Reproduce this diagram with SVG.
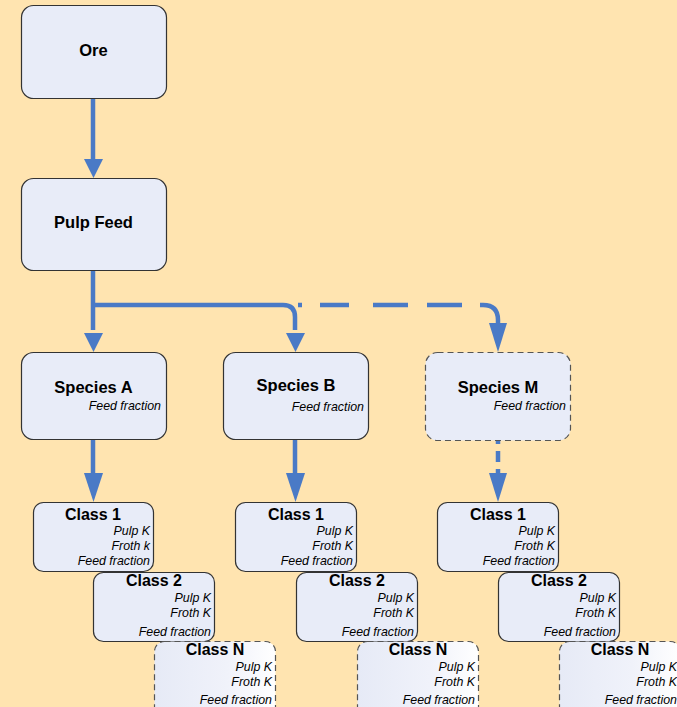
<svg xmlns="http://www.w3.org/2000/svg" width="677" height="707" viewBox="0 0 677 707">
<style>
.box{fill:#E8ECF8;stroke:#333;stroke-width:1.2}
.dbox{fill:#E8ECF8;stroke:#555;stroke-width:1.2;stroke-dasharray:6 4}
.nbox{fill:url(#gN);stroke:#555;stroke-width:1.2;stroke-dasharray:6 4}
.t{font-family:"Liberation Sans",Arial,sans-serif;font-weight:bold;font-size:16.5px;fill:#000;text-anchor:middle}
.c{font-family:"Liberation Sans",Arial,sans-serif;font-weight:bold;font-size:16px;fill:#000;text-anchor:middle}
.s{font-family:"Liberation Sans",Arial,sans-serif;font-style:italic;font-size:12.4px;fill:#000;text-anchor:end}
.ln{fill:none;stroke:#4A7AC6;stroke-width:4.5}
.ah{fill:#4A7AC6}
</style>
<defs>
<linearGradient id="gN" x1="0" y1="0" x2="1" y2="0">
<stop offset="0" stop-color="#E6EAF6"/>
<stop offset="0.6" stop-color="#F0F2FA"/>
<stop offset="1" stop-color="#FFFFFF"/>
</linearGradient>
</defs>
<rect x="0" y="0" width="677" height="707" fill="#FFE4B0"/>
<g id="connectors">
<path class="ln" d="M93,98 V160"/>
<polygon class="ah" points="84,159 103,159 93.5,178"/>
<path class="ln" d="M93,270 V330"/>
<path class="ln" d="M93,305 H283 Q295,305 295,317 V330"/>
<polygon class="ah" points="84,333 103,333 93.5,352"/>
<polygon class="ah" points="286,333 305,333 295.5,352"/>
<path class="ln" d="M298,305 H483 Q498,305 498,320 V326" stroke-dasharray="4 18 29 24 35 19 35 18 100"/>
<polygon class="ah" points="489,323 507,323 498,352"/>
<path class="ln" d="M93,439 V476"/>
<polygon class="ah" points="84,473 103,473 93.5,502"/>
<path class="ln" d="M295,439 V476"/>
<polygon class="ah" points="286,473 305,473 295.5,502"/>
<path class="ln" d="M498,440 V476" stroke-dasharray="4 7 11 7 20"/>
<polygon class="ah" points="489,473 507,473 498,502"/>
</g>
<g id="ore"><rect class="box" x="21.5" y="5.5" width="145" height="93" rx="12"/><text class="t" x="93.5" y="56">Ore</text></g>
<g id="pulpfeed"><rect class="box" x="21.5" y="178.5" width="145" height="92" rx="12"/><text class="t" x="93.5" y="228">Pulp Feed</text></g>
<g id="speciesA"><rect class="box" x="21.5" y="352.5" width="145" height="87" rx="12"/><text class="t" x="93.5" y="393">Species A</text><text class="s" x="161" y="410">Feed fraction</text></g>
<g id="speciesB"><rect class="box" x="223.5" y="352.5" width="145" height="87" rx="12"/><text class="t" x="296" y="391">Species B</text><text class="s" x="364" y="411">Feed fraction</text></g>
<g id="speciesM"><rect class="dbox" x="425.5" y="352.5" width="145" height="88" rx="12"/><text class="t" x="498" y="393">Species M</text><text class="s" x="566" y="410">Feed fraction</text></g>

<g id="A1"><rect class="box" x="33.5" y="502.5" width="120" height="69" rx="10"/><text class="c" x="93" y="520">Class 1</text><text class="s" x="150" y="535">Pulp K</text><text class="s" x="150" y="550">Froth k</text><text class="s" x="150" y="565">Feed fraction</text></g>
<g id="A2"><rect class="box" x="93.5" y="572.5" width="121" height="69" rx="10"/><text class="c" x="154" y="586">Class 2</text><text class="s" x="211" y="602">Pulp K</text><text class="s" x="211" y="617">Froth K</text><text class="s" x="211" y="636">Feed fraction</text></g>
<g id="AN"><rect class="nbox" x="154.5" y="641.5" width="121" height="75" rx="10"/><text class="c" x="215" y="655">Class N</text><text class="s" x="272" y="671">Pulp K</text><text class="s" x="272" y="686">Froth K</text><text class="s" x="272" y="704">Feed fraction</text></g>

<g id="B1"><rect class="box" x="235.5" y="502.5" width="121" height="69" rx="10"/><text class="c" x="296" y="520">Class 1</text><text class="s" x="353" y="535">Pulp K</text><text class="s" x="353" y="550">Froth K</text><text class="s" x="353" y="565">Feed fraction</text></g>
<g id="B2"><rect class="box" x="296.5" y="572.5" width="121" height="69" rx="10"/><text class="c" x="357" y="586">Class 2</text><text class="s" x="414" y="602">Pulp K</text><text class="s" x="414" y="617">Froth K</text><text class="s" x="414" y="636">Feed fraction</text></g>
<g id="BN"><rect class="nbox" x="357.5" y="641.5" width="121" height="75" rx="10"/><text class="c" x="418" y="655">Class N</text><text class="s" x="475" y="671">Pulp K</text><text class="s" x="475" y="686">Froth K</text><text class="s" x="475" y="704">Feed fraction</text></g>

<g id="M1"><rect class="box" x="437.5" y="502.5" width="121" height="69" rx="10"/><text class="c" x="498" y="520">Class 1</text><text class="s" x="555" y="535">Pulp K</text><text class="s" x="555" y="550">Froth K</text><text class="s" x="555" y="565">Feed fraction</text></g>
<g id="M2"><rect class="box" x="498.5" y="572.5" width="121" height="69" rx="10"/><text class="c" x="559" y="586">Class 2</text><text class="s" x="616" y="602">Pulp K</text><text class="s" x="616" y="617">Froth K</text><text class="s" x="616" y="636">Feed fraction</text></g>
<g id="MN"><rect class="nbox" x="559.5" y="641.5" width="121" height="75" rx="10"/><text class="c" x="620" y="655">Class N</text><text class="s" x="677" y="671">Pulp K</text><text class="s" x="677" y="686">Froth K</text><text class="s" x="677" y="704">Feed fraction</text></g>
</svg>
